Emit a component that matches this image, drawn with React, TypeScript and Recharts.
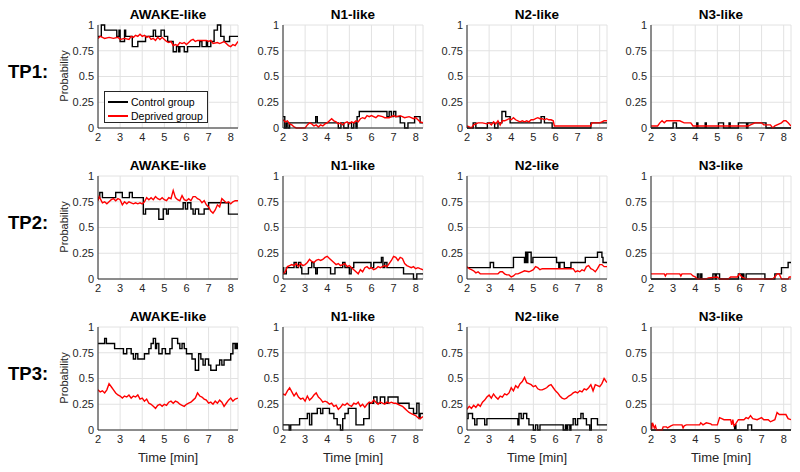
import { CartesianGrid, Line, LineChart, XAxis, YAxis } from "recharts";

type Pt = [number, number];

const stages = ["AWAKE-like", "N1-like", "N2-like", "N3-like"];
const timepoints = ["TP1:", "TP2:", "TP3:"];
const xTicks = [2, 3, 4, 5, 6, 7, 8];
const yTicks = [0, 0.25, 0.5, 0.75, 1];
const xDomain = [2, 8.33];
const legendNames = ["Control group", "Deprived group"];

// [time (min), probability] — control group changes level in steps
const tp1AwakeCtrl: Pt[] = [[2,0.89],[2.15,1],[2.3,0.95],[2.85,0.89],[2.95,0.95],[3.0,0.84],[3.2,0.95],[3.25,0.89],[3.55,0.79],[3.8,0.84],[4.15,0.89],[4.5,0.95],[4.6,0.89],[4.85,0.95],[5.0,0.89],[5.15,0.84],[5.4,0.74],[5.55,0.79],[5.65,0.74],[5.7,0.79],[5.9,0.74],[6.05,0.79],[6.6,0.84],[6.7,0.79],[6.9,0.84],[6.95,0.79],[7.1,0.84],[7.25,0.95],[7.4,1],[7.55,0.89],[7.7,0.84],[7.95,0.89],[8.33,0.89]];
const tp1AwakeDep: Pt[] = [[2,0.87],[2.1,0.89],[2.2,0.88],[2.3,0.87],[2.5,0.88],[2.7,0.87],[2.9,0.88],[3.0,0.86],[3.2,0.87],[3.4,0.86],[3.5,0.89],[3.6,0.88],[3.7,0.9],[3.8,0.89],[3.9,0.91],[4.0,0.89],[4.1,0.9],[4.2,0.88],[4.3,0.89],[4.4,0.86],[4.5,0.87],[4.6,0.85],[4.7,0.88],[4.8,0.86],[4.9,0.88],[5.0,0.86],[5.1,0.84],[5.2,0.83],[5.3,0.84],[5.4,0.8],[5.5,0.81],[5.6,0.8],[5.7,0.83],[5.8,0.82],[5.9,0.83],[6.0,0.81],[6.1,0.83],[6.2,0.85],[6.3,0.86],[6.4,0.84],[6.5,0.85],[6.7,0.85],[6.9,0.85],[7.0,0.84],[7.1,0.85],[7.2,0.82],[7.4,0.83],[7.5,0.82],[7.6,0.83],[7.7,0.84],[7.8,0.82],[7.9,0.8],[8.0,0.79],[8.1,0.81],[8.2,0.8],[8.33,0.84]];
const tp1N1Ctrl: Pt[] = [[2,0.11],[2.08,0],[2.15,0.05],[2.22,0],[2.3,0.05],[3.48,0.11],[3.55,0.05],[4.5,0],[4.62,0.05],[4.75,0],[4.95,0.05],[5.1,0],[5.2,0.05],[5.3,0],[5.35,0.11],[5.45,0.16],[6.7,0.11],[6.8,0.16],[6.9,0.11],[7.0,0.16],[7.1,0.11],[7.3,0.05],[7.5,0],[7.65,0.05],[7.95,0.11],[8.2,0.05],[8.33,0.05]];
const tp1N1Dep: Pt[] = [[2,0.08],[2.1,0.06],[2.2,0.07],[2.3,0.04],[2.4,0.03],[2.5,0.01],[2.6,0],[3.0,0],[3.1,0.03],[3.2,0.05],[3.3,0.04],[3.4,0.02],[3.5,0.03],[3.6,0.01],[3.7,0.03],[3.8,0.02],[3.9,0.04],[4.0,0.05],[4.1,0.07],[4.2,0.09],[4.3,0.07],[4.4,0.06],[4.5,0.04],[4.6,0.05],[4.7,0.03],[4.8,0.05],[4.9,0.06],[5.0,0.04],[5.1,0.06],[5.2,0.05],[5.3,0.07],[5.4,0.06],[5.5,0.09],[5.6,0.1],[5.7,0.09],[5.8,0.12],[5.9,0.11],[6.0,0.12],[6.2,0.1],[6.3,0.12],[6.5,0.11],[6.6,0.1],[6.8,0.1],[7.0,0.12],[7.1,0.11],[7.3,0.12],[7.5,0.1],[7.7,0.11],[7.9,0.09],[8.0,0.1],[8.1,0.08],[8.2,0.06],[8.33,0.05]];
const tp1N2Ctrl: Pt[] = [[2,0],[2.28,0.05],[2.4,0],[2.92,0.05],[3.25,0],[3.4,0.05],[3.58,0.16],[3.75,0.11],[3.95,0.05],[5.35,0.11],[5.5,0.05],[5.85,0],[7.6,0.05],[8.33,0.05]];
const tp1N2Dep: Pt[] = [[2,0.02],[2.1,0.01],[2.2,0],[2.3,0.03],[2.4,0.04],[2.5,0.05],[2.7,0.05],[2.9,0.04],[3.0,0.05],[3.1,0.03],[3.2,0.06],[3.3,0.04],[3.4,0.07],[3.5,0.03],[3.6,0.07],[3.7,0.07],[3.8,0.08],[3.9,0.09],[4.0,0.08],[4.1,0.1],[4.2,0.08],[4.3,0.07],[4.4,0.06],[4.5,0.07],[4.6,0.06],[4.7,0.07],[4.8,0.06],[4.9,0.08],[5.0,0.08],[5.1,0.09],[5.2,0.1],[5.3,0.09],[5.4,0.09],[5.5,0.08],[5.6,0.09],[5.7,0.08],[5.8,0.08],[5.9,0.07],[5.95,0.02],[6.5,0.02],[7.0,0.02],[7.6,0.02],[7.65,0.05],[8.0,0.05],[8.1,0.06],[8.2,0.07],[8.33,0.07]];
const tp1N3Ctrl: Pt[] = [[2,0],[3.0,0.05],[3.15,0],[4.07,0.05],[4.12,0],[4.45,0.05],[4.5,0],[5.05,0.05],[5.28,0],[5.53,0.05],[5.58,0],[5.95,0.05],[6.32,0],[6.38,0.05],[7.2,0],[8.33,0]];
const tp1N3Dep: Pt[] = [[2,0.02],[2.3,0.02],[2.4,0.05],[2.5,0.07],[2.6,0.05],[2.7,0.07],[3.3,0.07],[3.5,0.05],[3.8,0.05],[3.9,0.02],[4.0,0.02],[6.0,0.02],[6.4,0.02],[6.5,0.03],[6.7,0.05],[7.0,0.05],[7.1,0.03],[7.4,0.03],[7.5,0],[7.6,0.02],[7.9,0.05],[8.0,0.07],[8.1,0.07],[8.2,0.05],[8.33,0.02]];

const tp2AwakeCtrl: Pt[] = [[2,0.79],[2.08,0.84],[2.2,0.79],[2.8,0.84],[3.1,0.79],[3.42,0.84],[3.55,0.79],[4.05,0.63],[4.15,0.68],[4.75,0.58],[4.95,0.68],[5.1,0.63],[5.18,0.68],[5.85,0.74],[5.95,0.68],[6.05,0.74],[6.2,0.68],[6.3,0.63],[6.4,0.68],[6.55,0.63],[6.8,0.68],[7.0,0.74],[7.9,0.63],[8.33,0.63]];
const tp2AwakeDep: Pt[] = [[2,0.76],[2.05,0.8],[2.1,0.78],[2.2,0.74],[2.3,0.75],[2.4,0.73],[2.5,0.75],[2.6,0.77],[2.7,0.78],[2.8,0.76],[2.9,0.78],[3.0,0.77],[3.1,0.72],[3.2,0.75],[3.3,0.73],[3.4,0.75],[3.5,0.74],[3.6,0.73],[3.7,0.74],[3.8,0.73],[3.9,0.74],[4.0,0.73],[4.1,0.75],[4.2,0.79],[4.3,0.77],[4.4,0.79],[4.5,0.77],[4.6,0.8],[4.7,0.78],[4.8,0.77],[4.9,0.79],[5.0,0.77],[5.1,0.76],[5.2,0.79],[5.3,0.78],[5.4,0.86],[5.5,0.79],[5.6,0.77],[5.7,0.76],[5.8,0.81],[5.9,0.77],[6.0,0.76],[6.1,0.78],[6.2,0.76],[6.3,0.8],[6.4,0.8],[6.5,0.78],[6.6,0.77],[6.7,0.74],[6.8,0.76],[6.9,0.72],[7.0,0.7],[7.1,0.66],[7.2,0.64],[7.3,0.67],[7.4,0.72],[7.5,0.7],[7.6,0.78],[7.7,0.76],[7.8,0.74],[7.9,0.75],[8.0,0.73],[8.1,0.75],[8.2,0.76],[8.33,0.76]];
const tp2N1Ctrl: Pt[] = [[2,0.11],[2.03,0.05],[2.15,0.11],[2.5,0.16],[2.6,0.11],[2.7,0.16],[2.8,0.11],[2.85,0.05],[3.15,0.11],[3.3,0.16],[3.4,0.11],[3.48,0.05],[3.55,0.11],[4.15,0.05],[4.35,0.11],[4.7,0.16],[4.8,0.11],[5.0,0.05],[5.08,0.11],[5.2,0.16],[5.98,0.11],[6.1,0.16],[6.45,0.21],[6.52,0.11],[6.6,0.16],[6.7,0.11],[7.45,0.05],[7.9,0],[8.05,0.05],[8.33,0.05]];
const tp2N1Dep: Pt[] = [[2,0.05],[2.1,0.07],[2.2,0.12],[2.3,0.13],[2.4,0.14],[2.5,0.13],[2.6,0.15],[2.7,0.12],[2.8,0.15],[2.9,0.13],[3.0,0.14],[3.1,0.16],[3.2,0.19],[3.3,0.17],[3.4,0.16],[3.5,0.18],[3.6,0.19],[3.7,0.18],[3.8,0.19],[3.9,0.21],[4.0,0.22],[4.1,0.2],[4.2,0.18],[4.3,0.16],[4.4,0.14],[4.5,0.15],[4.6,0.13],[4.7,0.14],[4.8,0.15],[4.9,0.12],[5.0,0.13],[5.1,0.11],[5.2,0.09],[5.3,0.07],[5.4,0.05],[5.5,0.09],[5.6,0.07],[5.7,0.11],[5.8,0.12],[5.9,0.1],[6.0,0.11],[6.1,0.09],[6.2,0.1],[6.3,0.12],[6.4,0.11],[6.5,0.12],[6.6,0.13],[6.7,0.12],[6.8,0.15],[6.9,0.18],[7.0,0.22],[7.1,0.21],[7.2,0.18],[7.3,0.21],[7.4,0.2],[7.5,0.15],[7.6,0.13],[7.7,0.12],[7.8,0.11],[7.9,0.12],[8.0,0.1],[8.1,0.11],[8.2,0.1],[8.33,0.09]];
const tp2N2Ctrl: Pt[] = [[2,0.11],[3.05,0.16],[3.2,0.11],[4.1,0.21],[4.6,0.16],[4.65,0.26],[4.7,0.16],[4.75,0.26],[4.9,0.16],[4.98,0.21],[6.05,0.16],[6.15,0.11],[6.2,0.16],[6.4,0.11],[6.7,0.16],[7.35,0.21],[7.9,0.26],[8.1,0.21],[8.15,0.16],[8.33,0.16]];
const tp2N2Dep: Pt[] = [[2,0.12],[2.1,0.1],[2.2,0.09],[2.3,0.08],[2.4,0.06],[2.5,0.07],[2.6,0.05],[2.8,0.05],[3.0,0.05],[3.2,0.05],[3.4,0.05],[3.5,0.07],[3.6,0.07],[3.7,0.05],[3.8,0.04],[3.9,0.04],[4.0,0.02],[4.1,0.03],[4.2,0.05],[4.3,0.05],[4.4,0.06],[4.5,0.07],[4.6,0.08],[4.8,0.07],[4.9,0.08],[5.0,0.09],[5.1,0.12],[5.2,0.11],[5.3,0.09],[5.4,0.1],[6.0,0.1],[6.5,0.1],[6.8,0.1],[6.9,0.07],[7.0,0.08],[7.1,0.07],[7.2,0.09],[7.3,0.08],[7.4,0.12],[7.5,0.13],[7.6,0.1],[7.7,0.09],[7.8,0.07],[7.9,0.1],[8.0,0.14],[8.1,0.14],[8.2,0.12],[8.33,0.12]];
const tp2N3Ctrl: Pt[] = [[2,0],[4.1,0.05],[4.17,0],[4.25,0.05],[4.3,0],[4.8,0.05],[4.9,0],[4.95,0.05],[5.1,0],[5.95,0.05],[6.1,0],[6.15,0.05],[6.2,0],[6.3,0.05],[7.15,0],[7.6,0.05],[7.9,0.11],[8.2,0.16],[8.33,0.16]];
const tp2N3Dep: Pt[] = [[2,0.05],[2.6,0.05],[2.65,0.03],[2.7,0.05],[3.3,0.05],[3.35,0.03],[3.4,0.05],[3.8,0.05],[3.9,0.03],[4.0,0.02],[4.1,0],[4.5,0],[4.6,0.01],[5.0,0.02],[5.1,0],[5.5,0],[5.6,0.02],[5.9,0.02],[6.0,0.05],[6.1,0.02],[6.3,0],[7.5,0],[7.6,0.02],[7.7,0.05],[7.8,0.05],[7.9,0],[8.2,0],[8.25,0.02],[8.33,0.02]];

const tp3AwakeCtrl: Pt[] = [[2,0.84],[2.3,0.89],[2.38,0.84],[2.75,0.79],[3.15,0.74],[3.3,0.79],[3.5,0.74],[3.6,0.69],[3.7,0.74],[3.8,0.69],[4.1,0.74],[4.3,0.79],[4.4,0.84],[4.5,0.89],[4.6,0.79],[4.65,0.84],[4.75,0.74],[4.9,0.79],[5.05,0.74],[5.25,0.79],[5.35,0.89],[5.6,0.84],[5.7,0.79],[5.8,0.84],[5.9,0.79],[6.0,0.74],[6.25,0.69],[6.4,0.58],[6.55,0.74],[6.65,0.69],[6.75,0.63],[6.85,0.69],[7.0,0.63],[7.1,0.58],[7.35,0.63],[7.5,0.68],[7.6,0.63],[7.7,0.68],[8.0,0.74],[8.1,0.84],[8.2,0.79],[8.25,0.84],[8.3,0.79],[8.33,0.79]];
const tp3AwakeDep: Pt[] = [[2,0.39],[2.1,0.37],[2.2,0.38],[2.3,0.36],[2.4,0.39],[2.5,0.45],[2.6,0.42],[2.7,0.39],[2.8,0.36],[2.9,0.34],[3.0,0.33],[3.1,0.31],[3.2,0.33],[3.3,0.32],[3.4,0.34],[3.5,0.31],[3.6,0.33],[3.7,0.32],[3.8,0.34],[3.9,0.3],[4.0,0.31],[4.1,0.28],[4.2,0.3],[4.3,0.26],[4.4,0.25],[4.5,0.23],[4.6,0.21],[4.7,0.24],[4.8,0.25],[4.9,0.23],[5.0,0.25],[5.1,0.24],[5.2,0.27],[5.3,0.28],[5.4,0.26],[5.5,0.28],[5.6,0.27],[5.7,0.25],[5.8,0.24],[5.9,0.23],[6.0,0.25],[6.1,0.26],[6.2,0.27],[6.3,0.29],[6.4,0.31],[6.5,0.36],[6.6,0.33],[6.7,0.32],[6.8,0.3],[6.9,0.29],[7.0,0.26],[7.1,0.27],[7.2,0.25],[7.3,0.28],[7.4,0.26],[7.5,0.29],[7.6,0.27],[7.7,0.23],[7.8,0.26],[7.9,0.29],[8.0,0.31],[8.1,0.28],[8.2,0.3],[8.33,0.31]];
const tp3N1Ctrl: Pt[] = [[2,0.05],[2.28,0],[2.35,0.05],[2.75,0.11],[3.1,0.16],[3.2,0.05],[3.3,0.16],[3.55,0.21],[3.7,0.16],[3.8,0.21],[4.1,0.16],[4.3,0.11],[4.45,0.05],[4.6,0],[4.7,0.11],[4.8,0.16],[4.95,0.21],[5.3,0.05],[5.65,0.11],[5.9,0.26],[6.1,0.32],[6.25,0.26],[6.4,0.32],[6.6,0.26],[6.75,0.32],[7.2,0.26],[7.7,0.21],[7.9,0.16],[8.05,0.26],[8.15,0.11],[8.2,0.16],[8.33,0.16]];
const tp3N1Dep: Pt[] = [[2,0.35],[2.1,0.34],[2.2,0.38],[2.3,0.41],[2.4,0.37],[2.5,0.33],[2.6,0.36],[2.7,0.32],[2.8,0.3],[2.9,0.31],[3.0,0.28],[3.1,0.33],[3.2,0.29],[3.3,0.31],[3.4,0.34],[3.5,0.36],[3.6,0.32],[3.7,0.3],[3.8,0.27],[3.9,0.28],[4.0,0.27],[4.1,0.25],[4.2,0.26],[4.3,0.23],[4.4,0.24],[4.5,0.2],[4.6,0.22],[4.7,0.25],[4.8,0.24],[4.9,0.26],[5.0,0.24],[5.1,0.23],[5.2,0.26],[5.3,0.25],[5.4,0.27],[5.5,0.23],[5.6,0.25],[5.7,0.22],[5.8,0.25],[5.9,0.27],[6.0,0.26],[6.1,0.29],[6.2,0.27],[6.3,0.25],[6.4,0.27],[6.5,0.26],[6.6,0.25],[6.7,0.27],[6.8,0.26],[6.9,0.27],[7.0,0.26],[7.1,0.26],[7.2,0.25],[7.3,0.24],[7.4,0.23],[7.5,0.21],[7.6,0.19],[7.7,0.17],[7.8,0.16],[7.9,0.15],[8.0,0.14],[8.1,0.12],[8.2,0.11],[8.33,0.13]];
const tp3N2Ctrl: Pt[] = [[2,0.11],[2.05,0.16],[2.25,0.11],[2.35,0.05],[2.45,0.11],[2.8,0.05],[2.9,0.11],[4.3,0.05],[4.35,0.16],[4.45,0.11],[4.55,0.16],[4.7,0.11],[4.8,0.05],[5.0,0],[5.1,0.05],[5.2,0],[5.3,0.05],[6.35,0],[6.45,0.05],[6.5,0],[6.55,0.05],[6.65,0],[6.7,0.05],[6.8,0.11],[6.9,0.05],[7.0,0.11],[7.15,0.16],[7.25,0.11],[7.4,0.05],[7.55,0],[7.62,0.11],[7.9,0.05],[8.33,0.05]];
const tp3N2Dep: Pt[] = [[2,0.2],[2.1,0.23],[2.2,0.21],[2.3,0.24],[2.4,0.22],[2.5,0.25],[2.6,0.23],[2.7,0.27],[2.8,0.29],[2.9,0.32],[3.0,0.34],[3.1,0.31],[3.2,0.35],[3.3,0.32],[3.4,0.3],[3.5,0.33],[3.6,0.32],[3.7,0.35],[3.8,0.34],[3.9,0.36],[4.0,0.41],[4.1,0.38],[4.2,0.43],[4.3,0.41],[4.4,0.45],[4.5,0.47],[4.6,0.51],[4.7,0.46],[4.8,0.45],[4.9,0.44],[5.0,0.42],[5.1,0.43],[5.2,0.4],[5.3,0.39],[5.4,0.39],[5.5,0.4],[5.6,0.41],[5.7,0.43],[5.8,0.44],[5.9,0.41],[6.0,0.38],[6.1,0.36],[6.2,0.33],[6.3,0.31],[6.4,0.3],[6.5,0.31],[6.6,0.33],[6.7,0.34],[6.8,0.36],[6.9,0.37],[7.0,0.36],[7.1,0.38],[7.2,0.37],[7.3,0.4],[7.4,0.39],[7.5,0.41],[7.6,0.44],[7.7,0.38],[7.8,0.44],[7.9,0.43],[8.0,0.42],[8.1,0.45],[8.2,0.5],[8.33,0.46]];
const tp3N3Ctrl: Pt[] = [[2,0],[5.78,0.05],[5.84,0],[6.38,0.05],[6.55,0],[8.33,0]];
const tp3N3Dep: Pt[] = [[2,0.07],[2.03,0.01],[2.07,0.07],[2.1,0.05],[2.15,0.02],[2.2,0.04],[2.25,0],[2.5,0],[2.55,0.03],[2.7,0.03],[2.75,0.02],[2.9,0.04],[3.0,0.05],[3.4,0.05],[3.45,0.02],[3.5,0.04],[3.6,0.05],[4.2,0.05],[4.25,0.07],[4.35,0.05],[4.5,0.07],[4.7,0.06],[4.75,0.05],[5.0,0.05],[5.1,0.12],[5.2,0.11],[5.3,0.1],[5.6,0.1],[5.65,0.05],[5.7,0.1],[5.75,0.04],[5.8,0.05],[5.95,0.1],[6.2,0.1],[6.3,0.12],[6.4,0.11],[6.5,0.14],[6.6,0.11],[6.8,0.1],[7.0,0.12],[7.1,0.1],[7.3,0.1],[7.4,0.08],[7.6,0.1],[7.7,0.17],[7.8,0.15],[8.1,0.15],[8.2,0.11],[8.33,0.1]];

const controlRows = [
  [tp1AwakeCtrl, tp1N1Ctrl, tp1N2Ctrl, tp1N3Ctrl],
  [tp2AwakeCtrl, tp2N1Ctrl, tp2N2Ctrl, tp2N3Ctrl],
  [tp3AwakeCtrl, tp3N1Ctrl, tp3N2Ctrl, tp3N3Ctrl],
];
const deprivedRows = [
  [tp1AwakeDep, tp1N1Dep, tp1N2Dep, tp1N3Dep],
  [tp2AwakeDep, tp2N1Dep, tp2N2Dep, tp2N3Dep],
  [tp3AwakeDep, tp3N1Dep, tp3N2Dep, tp3N3Dep],
];

// layout (page pixels)
const colLeft = [98, 283, 467, 651];
const rowTop = [25, 176, 327];
const plotW = 140;
const plotH = 103;
const yAxisW = 42;
const xAxisH = 18;
const pad = 5;

const font = '"Liberation Sans", Arial, Helvetica, sans-serif';
const ink = "#262626";
const ctrlColor = "#000000";
const depColor = "#ff0000";

const toRows = (pts: Pt[]) => pts.map(([t, v]) => ({ t, v }));

const tickStyle = { fill: ink, fontSize: 11, fontFamily: font };

const Panel = ({ ctrl, dep }: { ctrl: Pt[]; dep: Pt[] }) => (
  <LineChart
    width={yAxisW + plotW + pad}
    height={pad + plotH + xAxisH}
    margin={{ top: pad, right: pad, bottom: 0, left: 0 }}
  >
    <CartesianGrid stroke="#e2e2e2" />
    <XAxis
      dataKey="t"
      type="number"
      domain={xDomain}
      ticks={xTicks}
      interval={0}
      allowDataOverflow
      height={xAxisH}
      tickSize={0}
      tickMargin={5}
      stroke={ink}
      tick={tickStyle}
    />
    <YAxis
      type="number"
      domain={[0, 1]}
      ticks={yTicks}
      interval={0}
      width={yAxisW}
      tickSize={0}
      tickMargin={4}
      stroke={ink}
      tick={tickStyle}
    />
    <Line data={toRows(ctrl)} dataKey="v" type="stepAfter" stroke={ctrlColor} strokeWidth={1.4} dot={false} isAnimationActive={false} />
    <Line data={toRows(dep)} dataKey="v" type="linear" stroke={depColor} strokeWidth={1.4} dot={false} isAnimationActive={false} />
  </LineChart>
);

export default function App() {
  return (
    <div style={{ position: "absolute", left: 0, top: 0, width: 800, height: 472, background: "#fff", fontFamily: font, color: ink }}>
      {rowTop.map((top, r) => (
        <div key={`row${r}`}>
          <div style={{ position: "absolute", left: 8, top: top + 47, transform: "translateY(-50%)", fontSize: 18.5, fontWeight: 700, color: "#000" }}>
            {timepoints[r]}
          </div>
          <div style={{ position: "absolute", left: 64, top: top + 51, transform: "translate(-50%, -50%) rotate(-90deg)", fontSize: 11, whiteSpace: "nowrap" }}>
            Probability
          </div>
          {colLeft.map((left, c) => (
            <div key={`p${r}${c}`}>
              <div style={{ position: "absolute", left, top: top - 11, width: plotW, textAlign: "center", transform: "translateY(-50%)", fontSize: 13.5, fontWeight: 700, color: "#000" }}>
                {stages[c]}
              </div>
              <div style={{ position: "absolute", left: left - yAxisW, top: top - pad }}>
                <Panel ctrl={controlRows[r][c]} dep={deprivedRows[r][c]} />
              </div>
              {r === 2 && (
                <div style={{ position: "absolute", left, top: 457, width: plotW, textAlign: "center", transform: "translateY(-50%)", fontSize: 13 }}>
                  Time [min]
                </div>
              )}
            </div>
          ))}
        </div>
      ))}
      <div style={{ position: "absolute", left: 104, top: 91, width: 104, height: 32, boxSizing: "border-box", border: `1px solid ${ink}`, background: "#fff", fontSize: 10.5 }}>
        {legendNames.map((name, i) => (
          <div key={name} style={{ position: "absolute", left: 3, top: 4 + i * 14, height: 12, display: "flex", alignItems: "center" }}>
            <div style={{ width: 20, height: 1.5, background: i === 0 ? ctrlColor : depColor, marginRight: 3 }} />
            <span style={{ color: "#000" }}>{name}</span>
          </div>
        ))}
      </div>
    </div>
  );
}
